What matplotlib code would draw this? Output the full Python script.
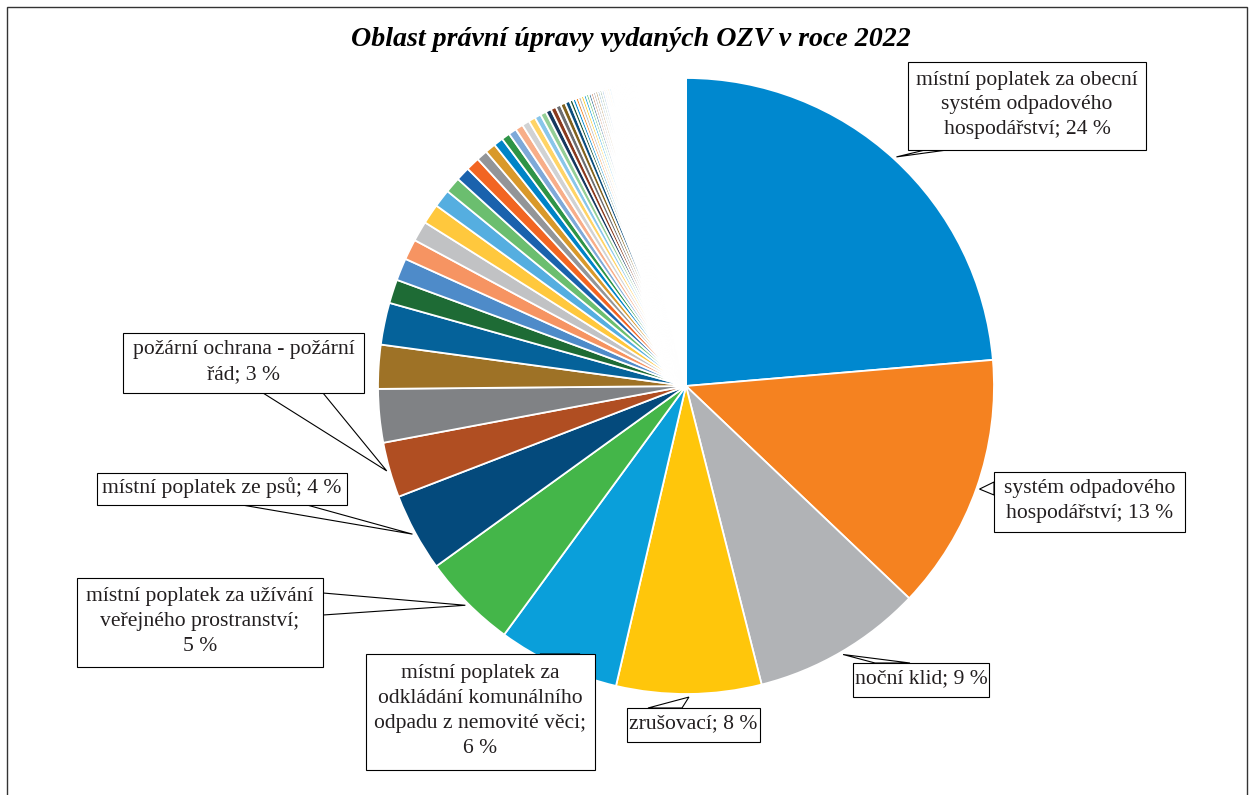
import matplotlib
matplotlib.use('Agg')
import matplotlib.pyplot as plt
from matplotlib.patches import Rectangle, Polygon
import numpy as np

plt.rcParams['font.family'] = ['Liberation Serif', 'DejaVu Serif']

# počty vyhlášek podle oblasti (seřazeno sestupně, přibližně)
counts_main = [2365, 1345, 895, 760, 640, 500, 410, 290, 280, 230,
               220, 125, 117, 108, 106, 105, 94, 83, 73, 72,
               58, 56, 50, 44, 42, 41, 39, 36, 33, 31,
               29, 28, 27, 26, 25, 17]
counts_tail = [16, 15, 15, 14, 14, 13, 13, 12, 12, 12, 11, 11, 11, 10, 10,
               10, 10, 9, 9, 9, 9, 8, 8, 8, 8, 7, 7, 7, 6, 6, 6, 6, 5, 5,
               5, 5, 5, 4, 4, 4, 4, 4, 4, 4, 4, 4, 4, 4, 4, 4, 4, 4,
               3, 3, 3, 3, 3, 3, 3, 3, 3, 3, 3, 3, 3, 3, 3, 3, 3, 3, 3, 3,
               2, 2, 2, 2, 2, 2, 2, 2, 2, 2, 2, 2, 2, 2, 2, 2, 2, 2, 2, 2,
               2, 2, 2, 2, 2, 2, 2, 2, 2, 2, 2, 2, 2, 2, 2, 2, 2, 2, 2, 2,
               1, 1, 1, 1, 1, 1, 1, 1, 1, 1, 1, 1, 1, 1, 1, 1, 1, 1, 1, 1,
               1, 1, 1, 1, 1, 1, 1, 1, 1, 1, 1, 1, 1, 1, 1, 1, 1, 1, 1, 1,
               1, 1, 1, 1, 1, 1, 1, 1, 1, 1, 1, 1, 1]
counts = counts_main + counts_tail

# popisky jen u prvních osmi oblastí
label_texts = [
    "místní poplatek za obecní\nsystém odpadového\nhospodářství; {p} %",
    "systém odpadového\nhospodářství; {p} %",
    "noční klid; {p} %",
    "zrušovací; {p} %",
    "místní poplatek za\nodkládání komunálního\nodpadu z nemovité věci;\n{p} %",
    "místní poplatek za užívání\nveřejného prostranství;\n{p} %",
    "místní poplatek ze psů; {p} %",
    "požární ochrana - požární\nřád; {p} %",
]

palette = ['#0088CF', '#F58220', '#B1B3B6', '#FFC60B', '#0A9FDA', '#44B649',
           '#044A7C', '#B04E22', '#808285', '#9E7226', '#05629A', '#1E6B35',
           '#4E8BC9', '#F69462', '#C1C2C4', '#FFC83D', '#55AEE0', '#6BBE6F',
           '#1A62AD', '#F26522', '#939598', '#D9992A', '#0084C7', '#2E9447',
           '#7EA9D9', '#F8AE89', '#D1D2D3', '#FFD466', '#89C6EA', '#94CF96',
           '#16385F', '#8A3A1E', '#6D6E71', '#81621E', '#0C4E7C', '#1C5331']
colors = [palette[i % len(palette)] for i in range(len(counts))]

W, H = 1255, 795
fig = plt.figure(figsize=(W / 100, H / 100), dpi=100)
ax = fig.add_axes([0, 0, 1, 1])

cx, cy, R = 686, H - 386, 308
wedges, _ = ax.pie(counts, colors=colors, startangle=90, counterclock=False,
                   center=(cx, cy), radius=R,
                   wedgeprops=dict(edgecolor='white', linewidth=1.3))
ax.set_xlim(0, W)
ax.set_ylim(0, H)
ax.set_aspect('equal')
ax.axis('off')

# rámeček
ax.add_patch(Rectangle((7, -20), W - 14 - 1, H - 7 + 20, fill=False,
                       ec='#333333', lw=1.0, zorder=1))

ax.text(631, H - 39, "Oblast právní úpravy vydaných OZV v roce 2022",
        ha='center', va='center', fontsize=20.2, fontweight='bold',
        fontstyle='italic', zorder=10)

# rozmístění popisků (obrazové souřadnice): box x0, y0, x1, y1 a základna šipky
boxes = [(908, 62, 1146, 150), (994, 472, 1185, 532), (853, 663, 989, 697),
         (627, 708, 760, 742), (366, 654, 595, 770), (77, 578, 323, 667),
         (97, 473, 347, 505), (123, 333, 364, 393)]
bases = [((925, 150), (947, 150)), ((994, 482), (994, 495)),
         ((875, 663), (910, 663)), ((648, 708), (682, 708)),
         ((540, 654), (580, 654)), ((323, 593), (323, 615)),
         ((242, 505), (307, 505)), ((263, 393), (323, 393))]

total = sum(counts)
for i, txt in enumerate(label_texts):
    w = wedges[i]
    mid = np.deg2rad((w.theta1 + w.theta2) / 2)
    tip = (cx + 1.01 * R * np.cos(mid), cy + 1.01 * R * np.sin(mid))
    (bx0, by0), (bx1, by1) = bases[i]
    ax.add_patch(Polygon([(bx0, H - by0), tip, (bx1, H - by1)], closed=True,
                         fc='white', ec='black', lw=0.8, zorder=5))
    x0, y0, x1, y1 = boxes[i]
    ax.add_patch(Rectangle((x0, H - y1), x1 - x0, y1 - y0, fc='white',
                           ec='black', lw=0.8, zorder=6))
    p = int(counts[i] / total * 100 + 0.5)
    ax.text((x0 + x1) / 2, H - (y0 + y1) / 2 + 1, txt.format(p=p), ha='center',
            va='center', fontsize=15.6, linespacing=1.42, color='#231F20',
            zorder=7)

fig.savefig('out.png', dpi=100)
